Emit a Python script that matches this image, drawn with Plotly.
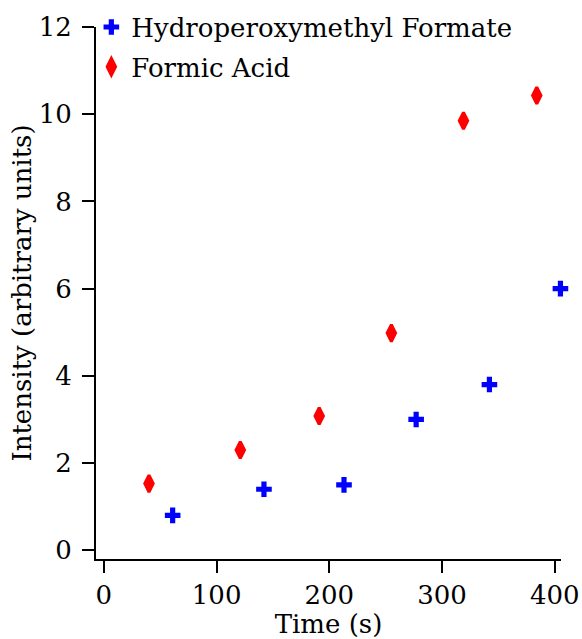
import plotly.graph_objects as go

hpmf_time = [61, 142, 213, 277, 342, 405]
hpmf_intensity = [0.8, 1.4, 1.5, 3.0, 3.8, 6.0]
fa_time = [40, 121, 191, 255, 319, 384]
fa_intensity = [1.53, 2.3, 3.08, 4.98, 9.85, 10.43]

FONT = "DejaVu Serif"
FS = 26

fig = go.Figure()
fig.add_trace(go.Scatter(
    x=hpmf_time, y=hpmf_intensity, mode="markers", name="Hydroperoxymethyl Formate",
    marker=dict(symbol="cross", size=13, color="#0000ff", line=dict(width=0)),
    cliponaxis=False, legendgroup="a"))
fig.add_trace(go.Scatter(
    x=fa_time, y=fa_intensity, mode="markers", name="Formic Acid",
    marker=dict(symbol="diamond-tall", size=12, color="#ff0000", line=dict(width=3, color="#ff0000")),
    cliponaxis=False, legendgroup="b"))

axis_common = dict(showline=True, linecolor="black", linewidth=2, ticks="outside",
                   ticklen=12, tickwidth=2, tickcolor="black", showgrid=False,
                   zeroline=False, automargin=False,
                   tickfont=dict(family=FONT, size=FS, color="black"))
fig.update_layout(
    width=582, height=639,
    margin=dict(l=96, r=21, t=27, b=80, autoexpand=False),
    plot_bgcolor="white", paper_bgcolor="white",
    font=dict(family=FONT, size=FS, color="black"),
    xaxis=dict(range=[-7, 405.5], tickvals=[0, 100, 200, 300, 400],
               title=dict(text="Time (s)", font=dict(family=FONT, size=FS), standoff=0),
               **axis_common),
    yaxis=dict(range=[-0.2, 12], tickvals=[0, 2, 4, 6, 8, 10, 12],
               ticklabelstandoff=5,
               title=dict(text="Intensity (arbitrary units)", font=dict(family=FONT, size=FS), standoff=0),
               **axis_common),
    legend=dict(x=-0.01, y=1.044, xanchor="left", yanchor="top", bgcolor="rgba(0,0,0,0)",
                font=dict(family=FONT, size=FS), tracegroupgap=3),
    showlegend=True,
)

fig.write_html("out.html", config={"displayModeBar": False},
               post_script="document.body.style.margin='0';document.body.style.overflow='hidden';")
